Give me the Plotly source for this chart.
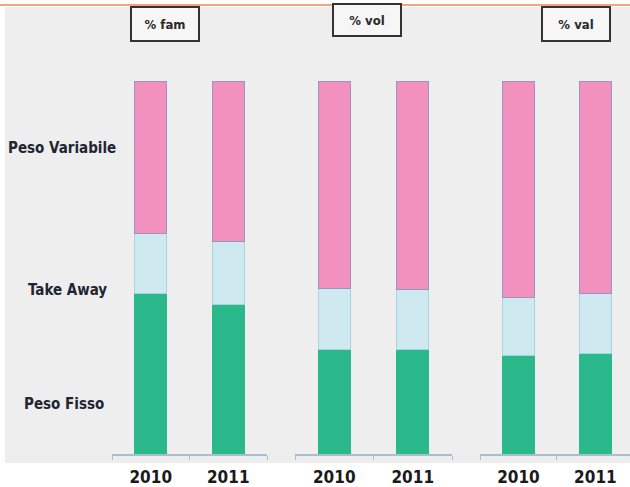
import plotly.graph_objects as go

years = ["2010", "2011"]
panels = ["% fam", "% vol", "% val"]
series_names = ["Peso Fisso", "Take Away", "Peso Variabile"]

fam_fisso = [43, 40]
fam_take = [16, 17]
fam_var = [41, 43]

vol_fisso = [28, 28]
vol_take = [16.5, 16]
vol_var = [55.5, 56]

val_fisso = [26.5, 27]
val_take = [15.5, 16]
val_var = [58, 57]

panel_data = [
    (fam_fisso, fam_take, fam_var),
    (vol_fisso, vol_take, vol_var),
    (val_fisso, val_take, val_var),
]

colors = ["#2bb98c", "#cfe9f1", "#f291bd"]
line_colors = ["#2bb98c", "#a6d3dc", "#9a93c6"]

W, H = 630, 487
T, B = 81, 33
PH = H - T - B  # plot height in px


def py(pix):
    return (H - B - pix) / PH


fig = go.Figure()
axis_names = ["", "2", "3"]
for i, data in enumerate(panel_data):
    for s, vals in enumerate(data):
        fig.add_trace(go.Bar(
            x=years, y=vals, name=series_names[s],
            marker=dict(color=colors[s], line=dict(color=line_colors[s], width=1)),
            width=0.41, showlegend=False, hoverinfo="skip",
            xaxis="x" + axis_names[i], yaxis="y",
        ))

domains = [[112 / W, 267 / W], [295 / W, 452 / W], [480 / W, 1.0]]
ranges = [[-0.5, 1.5], [-0.5, 1.5], [-0.5, 1.45]]
font_narrow = "Liberation Sans Narrow, DejaVu Sans Condensed, Arial Narrow, sans-serif"
for i in range(3):
    key = "xaxis" + axis_names[i]
    fig.layout[key] = dict(
        domain=domains[i], range=ranges[i], type="category",
        tickmode="array", tickvals=years, ticktext=["<b>" + y + "</b>" for y in years],
        showline=True, linecolor="#a9bfd0", linewidth=1.5,
        ticks="outside", tickson="boundaries", ticklen=4, tickcolor="#a9bfd0",
        ticklabelstandoff=7,
        showgrid=False, zeroline=False, anchor="y",
        tickfont=dict(family=font_narrow, size=17, color="#1a1a1a"),
        fixedrange=True,
    )

fig.update_layout(
    barmode="stack",
    width=W, height=H,
    margin=dict(l=0, r=0, t=T, b=B, pad=0),
    paper_bgcolor="white",
    plot_bgcolor="rgba(0,0,0,0)",
    yaxis=dict(range=[0, 100], visible=False, showgrid=False, domain=[0, 1], fixedrange=True),
    shapes=[
        dict(type="rect", xref="paper", yref="paper",
             x0=5 / W, x1=1.0, y0=py(463), y1=py(7),
             fillcolor="#eeeeee", line=dict(width=0), layer="below"),
    ],
)

label_pos = [(64, 404), (67, 290), (62, 148)]
for name, (lx, ly) in zip(series_names, label_pos):
    fig.add_annotation(
        text="<b>" + name + "</b>", xref="paper", yref="paper",
        x=lx / W, y=py(ly), xanchor="center", yanchor="middle", showarrow=False,
        font=dict(family=font_narrow, size=15, color="#1f2533"),
    )

box_pos = [(164.5, 23.5, 32), (367, 20, 30), (575.5, 23.5, 32)]
for name, (bx, by, bh) in zip(panels, box_pos):
    fig.add_annotation(
        text="<b>" + name + "</b>", xref="paper", yref="paper",
        x=bx / W, y=py(by), xanchor="center", yanchor="middle", showarrow=False,
        font=dict(family=font_narrow, size=13, color="#2a2a2a"),
        bordercolor="#333333", borderwidth=2, borderpad=0,
        bgcolor="#f6f6f6", width=66, height=bh,
    )

# orange rule across the top, drawn above the boxes
fig.add_shape(type="line", xref="paper", yref="paper",
              x0=0, x1=1.0, y0=py(5), y1=py(5),
              line=dict(color="#f6a27c", width=2), layer="above")

fig.write_html(
    "out.html",
    config={"displayModeBar": False, "staticPlot": True},
    post_script="document.body.style.margin='0px';document.body.style.overflow='hidden';",
)
